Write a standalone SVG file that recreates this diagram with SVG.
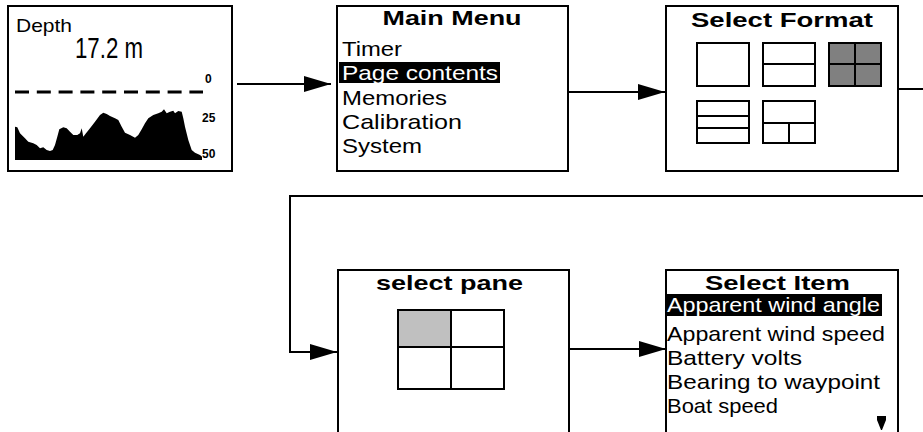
<svg xmlns="http://www.w3.org/2000/svg" width="923" height="432" viewBox="0 0 923 432">
  <style>
    .box { fill: #fff; stroke: #000; stroke-width: 2; }
    .conn { fill: none; stroke: #000; stroke-width: 2; marker-end: url(#ah); }
    .cell { fill: #fff; stroke: #000; stroke-width: 2; }
    .div { fill: none; stroke: #000; stroke-width: 2; }
    .sans { font-family: "Liberation Sans", Arial, sans-serif; fill: #000; }
    .lcd { font-family: "Liberation Sans", Arial, sans-serif; font-size: 21px; fill: #000; }
    .ttl { font-family: "Liberation Sans", Arial, sans-serif; font-size: 21px; font-weight: bold; fill: #000; }
    .inv { fill: #fff; }
    .scale { font-family: "Liberation Sans", Arial, sans-serif; font-size: 12px; font-weight: bold; fill: #000; }
  </style>
  <defs>
    <marker id="ah" markerUnits="userSpaceOnUse" viewBox="0 0 27 16" markerWidth="27" markerHeight="16" refX="27" refY="8" orient="auto">
      <path d="M0,0 L27,8 L0,16 Z" fill="#000"/>
    </marker>
  </defs>

  <!-- connectors between screens -->
  <g id="connectors">
    <path class="conn" d="M237,84 H331"/>
    <path class="conn" d="M568,92 H665"/>
    <path class="conn" d="M898,89 H930 V196 H290 V352 H337"/>
    <path class="conn" d="M569,349 H666"/>
  </g>

  <!-- depth display screen -->
  <g id="depth-screen">
    <rect class="box" x="8" y="6" width="224" height="165"/>
    <text class="sans" x="16" y="32" font-size="19" textLength="56" lengthAdjust="spacingAndGlyphs">Depth</text>
    <text class="sans" x="75" y="58" font-size="29" textLength="68" lengthAdjust="spacingAndGlyphs">17.2 m</text>
    <line x1="15" y1="92" x2="203" y2="92" stroke="#000" stroke-width="3" stroke-dasharray="14 7.8"/>
    <text class="scale" x="205" y="83">0</text>
    <text class="scale" x="202" y="122">25</text>
    <text class="scale" x="202" y="158">50</text>
    <path fill="#000" d="M15,160 L15,126.7 L17.3,127.3 L20,133.3 L25,138.3 L28.3,141.7 L33.3,143.3 L36.7,145 L40,148.3 L43.3,147.3 L46.7,150 L50,151 L52.7,150 L55,145 L57.3,136.7 L59.3,129.3 L63.3,127.3 L66.7,128.3 L70,131.7 L73.3,135 L77.3,135 L80,133.3 L81.7,128.3 L83.3,136.7 L86,133.3 L90,128.3 L95,121.7 L100,115 L103.3,112.7 L106.7,114 L110,116 L115,118.3 L118.3,120 L121.7,126.7 L125,132.7 L130,135 L135,137.7 L138.3,135 L141.7,129.3 L145,123.3 L148.3,118.3 L153.3,115 L158.3,113.3 L161.7,111.7 L164,109.3 L166.7,113.3 L170,111.7 L173.3,110.7 L175,113.3 L178.3,111 L181.7,111.7 L183.3,118.3 L185,126.7 L188.3,140 L191.7,150 L195,152.7 L200,155 L202,156.7 L202,160 Z"/>
  </g>

  <!-- main menu screen -->
  <g id="main-menu">
    <rect class="box" x="337" y="6" width="231" height="165"/>
    <text class="ttl" x="452" y="25" text-anchor="middle" textLength="139" lengthAdjust="spacingAndGlyphs">Main Menu</text>
    <text class="lcd" x="342" y="56" textLength="60" lengthAdjust="spacingAndGlyphs">Timer</text>
    <rect x="339" y="62" width="161" height="21" fill="#000"/>
    <text class="lcd inv" x="342" y="80" textLength="156" lengthAdjust="spacingAndGlyphs">Page contents</text>
    <text class="lcd" x="342" y="105" textLength="105" lengthAdjust="spacingAndGlyphs">Memories</text>
    <text class="lcd" x="342" y="129" textLength="120" lengthAdjust="spacingAndGlyphs">Calibration</text>
    <text class="lcd" x="342" y="153" textLength="80" lengthAdjust="spacingAndGlyphs">System</text>
  </g>

  <!-- page format chooser -->
  <g id="select-format">
    <rect class="box" x="666" y="6" width="232" height="165"/>
    <text class="ttl" x="782" y="27" text-anchor="middle" textLength="182" lengthAdjust="spacingAndGlyphs">Select Format</text>
    <rect class="cell" x="697" y="43" width="52" height="43"/>
    <rect class="cell" x="763" y="43" width="52" height="43"/>
    <line class="div" x1="763" y1="64" x2="815" y2="64"/>
    <rect class="cell" x="829" y="43" width="52" height="43" style="fill:#808080"/>
    <line class="div" x1="829" y1="64" x2="881" y2="64"/>
    <line class="div" x1="855" y1="43" x2="855" y2="86"/>
    <rect class="cell" x="697" y="101" width="52" height="42"/>
    <line class="div" x1="697" y1="116" x2="749" y2="116"/>
    <line class="div" x1="697" y1="128" x2="749" y2="128"/>
    <rect class="cell" x="763" y="101" width="52" height="42"/>
    <line class="div" x1="763" y1="123" x2="815" y2="123"/>
    <line class="div" x1="789" y1="123" x2="789" y2="143"/>
  </g>

  <!-- pane chooser -->
  <g id="select-pane">
    <rect class="box" x="338" y="270" width="231" height="180"/>
    <text class="ttl" x="449.5" y="290" text-anchor="middle" textLength="147" lengthAdjust="spacingAndGlyphs">select pane</text>
    <rect x="398" y="310" width="53" height="37" fill="#c0c0c0"/>
    <rect x="398" y="310" width="106" height="79" fill="none" stroke="#000" stroke-width="2"/>
    <line class="div" x1="451" y1="310" x2="451" y2="389"/>
    <line class="div" x1="398" y1="347" x2="504" y2="347"/>
  </g>

  <!-- item list -->
  <g id="select-item">
    <rect class="box" x="666" y="270" width="232" height="180"/>
    <text class="ttl" x="777.5" y="290" text-anchor="middle" textLength="145" lengthAdjust="spacingAndGlyphs">Select Item</text>
    <rect x="667" y="294" width="215" height="22" fill="#000"/>
    <text class="lcd inv" x="667" y="312" textLength="213" lengthAdjust="spacingAndGlyphs">Apparent wind angle</text>
    <text class="lcd" x="667" y="341" textLength="218" lengthAdjust="spacingAndGlyphs">Apparent wind speed</text>
    <text class="lcd" x="667" y="365" textLength="135" lengthAdjust="spacingAndGlyphs">Battery volts</text>
    <text class="lcd" x="667" y="389" textLength="213" lengthAdjust="spacingAndGlyphs">Bearing to waypoint</text>
    <text class="lcd" x="667" y="413" textLength="111" lengthAdjust="spacingAndGlyphs">Boat speed</text>
    <polygon points="877,416 886,416 886,420 882,430 881,430 877,420" fill="#000"/>
  </g>
</svg>
